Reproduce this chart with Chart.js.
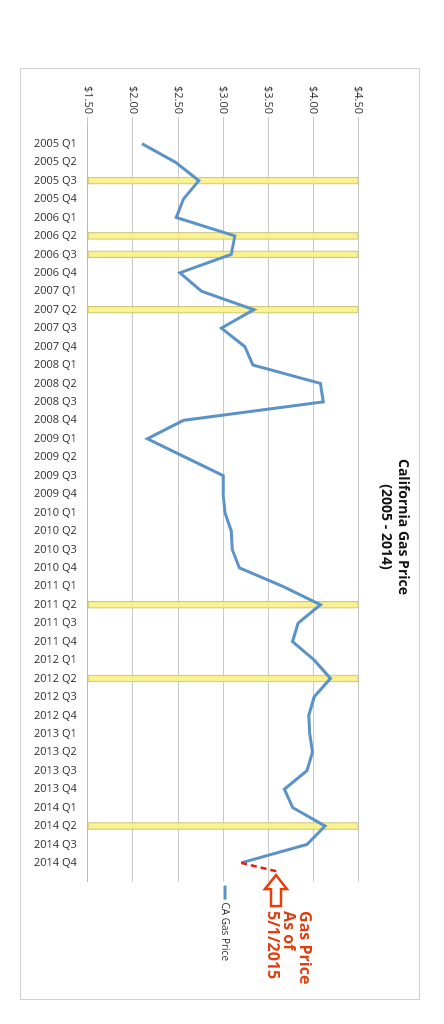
<!DOCTYPE html>
<html>
<head>
<meta charset="utf-8">
<script src="https://cdn.jsdelivr.net/npm/chart.js@4"></script>
<style>
  html, body { margin: 0; padding: 0; background: #fff; overflow: hidden; }
  #page { position: absolute; left: 0; top: 0; width: 1024px; height: 444px;
          transform-origin: 0 0; transform: translate(444px, 0) rotate(90deg); }
  #box { position: absolute; left: 68px; top: 24px; width: 932px; height: 400px;
         border: 1px solid #d0d0d0; box-sizing: border-box; background: #fff; }
</style>
</head>
<body>
<div id="page"><div id="box"><canvas id="gasChart"></canvas></div></div>
<script>
const quarters = [
  '2005 Q1','2005 Q2','2005 Q3','2005 Q4','2006 Q1','2006 Q2','2006 Q3','2006 Q4',
  '2007 Q1','2007 Q2','2007 Q3','2007 Q4','2008 Q1','2008 Q2','2008 Q3','2008 Q4',
  '2009 Q1','2009 Q2','2009 Q3','2009 Q4','2010 Q1','2010 Q2','2010 Q3','2010 Q4',
  '2011 Q1','2011 Q2','2011 Q3','2011 Q4','2012 Q1','2012 Q2','2012 Q3','2012 Q4',
  '2013 Q1','2013 Q2','2013 Q3','2013 Q4','2014 Q1','2014 Q2','2014 Q3','2014 Q4'
];
const gasPrice = [
  2.10, 2.47, 2.73, 2.56, 2.48, 3.13, 3.09, 2.52,
  2.76, 3.34, 2.98, 3.24, 3.33, 4.08, 4.11, 2.56,
  2.16, 2.58, 3.00, 3.00, 3.02, 3.09, 3.10, 3.18,
  3.66, 4.08, 3.83, 3.77, 4.01, 4.19, 4.01, 3.95,
  3.96, 3.99, 3.93, 3.68, 3.77, 4.13, 3.93, 3.20
];
const highlighted = ['2005 Q3','2006 Q2','2006 Q3','2007 Q2','2011 Q2','2012 Q2','2014 Q2'];
const latestPrice = 3.63; // 5/1/2015
const axisMin = 1.5, axisMax = 4.5;

const lineData = gasPrice.map((v, i) => ({ x: i, y: v }));
const bandData = highlighted.map(q => ({ x: quarters.indexOf(q), y: [axisMin, axisMax] }));
const projData = [{ x: quarters.length - 1, y: gasPrice[gasPrice.length - 1] },
                  { x: quarters.length - 0.5, y: latestPrice }];

// arrow + note next to the projected point
const notePlugin = {
  id: 'note',
  afterDatasetsDraw(chart) {
    const ctx = chart.ctx;
    const px = chart.scales.x.getPixelForValue(projData[1].x) + 3;
    const py = chart.scales.y.getPixelForValue(projData[1].y) + 4;
    ctx.save();
    ctx.strokeStyle = '#e8400c';
    ctx.lineWidth = 2.5;
    ctx.beginPath();
    ctx.moveTo(px, py);
    ctx.lineTo(px + 14, py - 11);
    ctx.lineTo(px + 14, py - 5);
    ctx.lineTo(px + 31, py - 5);
    ctx.lineTo(px + 31, py + 5);
    ctx.lineTo(px + 14, py + 5);
    ctx.lineTo(px + 14, py + 11);
    ctx.closePath();
    ctx.stroke();
    ctx.fillStyle = '#e0400f';
    ctx.font = 'bold 16px "Open Sans", sans-serif';
    ctx.textBaseline = 'middle';
    ctx.fillText('Gas Price', px + 36, py - 29);
    ctx.fillText('As of', px + 36, py - 13);
    ctx.fillText('5/1/2015', px + 36, py + 3);
    ctx.restore();
  }
};

new Chart(document.getElementById('gasChart').getContext('2d'), {
  data: {
    datasets: [
      {
        type: 'line',
        label: 'CA Gas Price',
        data: lineData,
        borderColor: '#5b92c8',
        backgroundColor: '#5b92c8',
        borderWidth: 3,
        pointRadius: 0,
        tension: 0,
        order: 1
      },
      {
        type: 'line',
        label: 'projection',
        data: projData,
        borderColor: '#e8200c',
        borderWidth: 2.5,
        borderDash: [6, 4],
        pointRadius: 0,
        order: 0
      },
      {
        type: 'bar',
        label: 'band',
        data: bandData,
        backgroundColor: 'rgba(250,240,130,0.85)',
        borderColor: '#c9c27a',
        borderWidth: 1,
        borderSkipped: false,
        barThickness: 7,
        order: 2
      }
    ]
  },
  options: {
    responsive: true,
    maintainAspectRatio: false,
    animation: false,
    layout: { padding: { left: 14, right: 28, top: 0, bottom: 10 } },
    plugins: {
      title: {
        display: true,
        text: ['California Gas Price', '(2005 - 2014)'],
        color: '#111',
        font: { family: 'Open Sans', size: 14, weight: 'bold' },
        padding: { top: 8, bottom: 19 }
      },
      legend: {
        position: 'right',
        labels: {
          filter: item => item.text === 'CA Gas Price',
          usePointStyle: true,
          pointStyle: 'line',
          boxWidth: 20,
          color: '#333',
          font: { family: 'Open Sans', size: 10 },
          padding: 6
        }
      },
      tooltip: { enabled: false }
    },
    scales: {
      x: {
        type: 'linear',
        min: -0.5,
        max: quarters.length - 0.5,
        grid: { display: false },
        border: { color: '#bbb' },
        ticks: {
          stepSize: 1,
          autoSkip: false,
          maxRotation: 90,
          minRotation: 90,
          color: '#333',
          font: { family: 'Open Sans', size: 11 },
          callback: v => Number.isInteger(v) ? quarters[v] : ''
        },
        afterBuildTicks: axis => { axis.ticks = quarters.map((q, i) => ({ value: i })); }
      },
      y: {
        min: axisMin,
        max: axisMax,
        grid: { color: '#c8c8c8' },
        border: { display: false },
        ticks: {
          stepSize: 0.5,
          color: '#333',
          font: { family: 'Open Sans', size: 11 },
          callback: v => '$' + v.toFixed(2)
        }
      }
    }
  },
  plugins: [notePlugin]
});
</script>
</body>
</html>
